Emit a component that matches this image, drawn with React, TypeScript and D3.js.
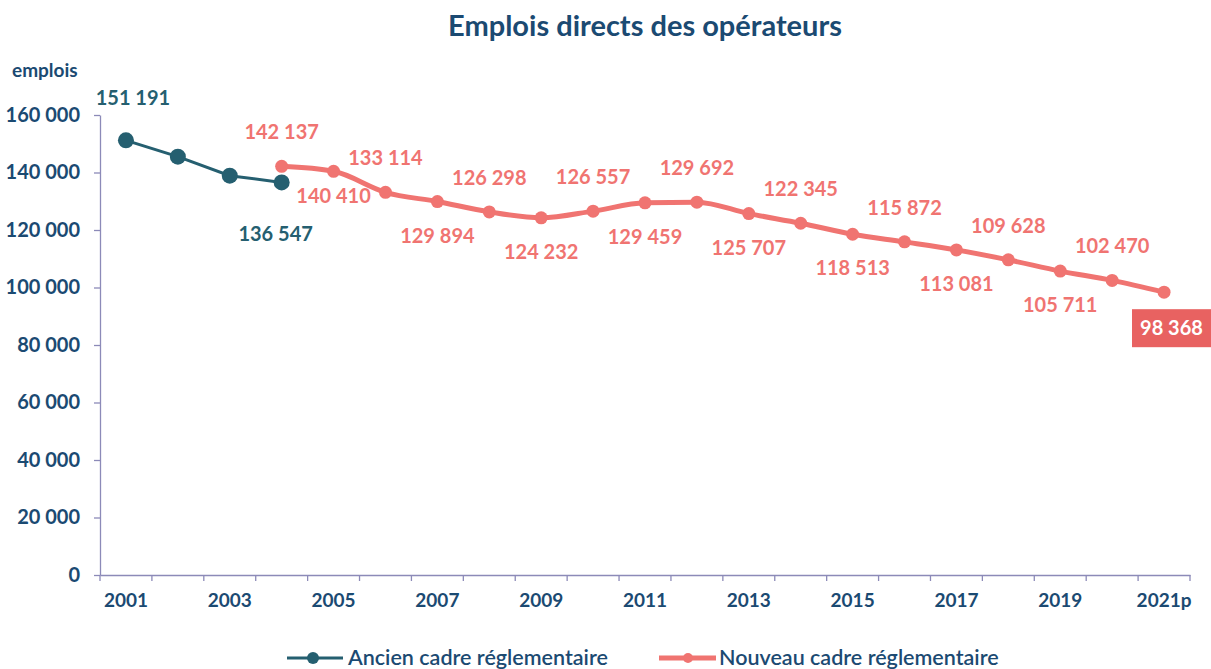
import React, { useEffect, useRef } from "react";
import * as d3 from "d3";

const years = [
  "2001", "2002", "2003", "2004", "2005", "2006", "2007", "2008", "2009", "2010", "2011",
  "2012", "2013", "2014", "2015", "2016", "2017", "2018", "2019", "2020", "2021p",
];
// ancien cadre (2001-2004)
const oldYears = ["2001", "2002", "2003", "2004"];
const oldValues = [151191, 145500, 138900, 136547];
const oldLabelled = [true, false, false, true];
// nouveau cadre (2004-2021p)
const newYears = years.slice(3);
const newValues = [
  142137, 140410, 133114, 129894, 126298, 124232, 126557, 129459, 129692,
  125707, 122345, 118513, 115872, 113081, 109628, 105711, 102470, 98368,
];
const yTicks = [0, 20000, 40000, 60000, 80000, 100000, 120000, 140000, 160000];

const NAVY = "#1b4a72";
const TEAL = "#255f70";
const RED = "#f07471";
const AXIS = "#8c8ab8";
const FONT = "Lato, 'Open Sans', sans-serif";

const fmt = (v: number) => d3.format(",")(v).replace(/,/g, " ");

export default function App() {
  const axisRef = useRef<SVGGElement>(null);

  const x = d3.scaleBand<string>().domain(years).range([100, 1190]);
  const y = d3.scaleLinear().domain([0, 160000]).range([575, 115]);
  const cx = (yr: string) => (x(yr) ?? 0) + x.bandwidth() / 2;

  useEffect(() => {
    const g = d3.select(axisRef.current);
    g.selectAll("*").remove();

    const ya = g.append("g").attr("transform", "translate(100,0)")
      .call(d3.axisLeft(y).tickValues(yTicks).tickSize(6).tickSizeOuter(0).tickPadding(14).tickFormat((d) => fmt(+d)));
    ya.select(".domain").attr("stroke", AXIS).attr("stroke-width", 1.3);
    ya.selectAll(".tick line").attr("stroke", AXIS).attr("stroke-width", 1.3);
    ya.selectAll(".tick text").attr("fill", NAVY).attr("font-size", 20).attr("font-weight", 700).attr("font-family", FONT);

    const xa = g.append("g").attr("transform", "translate(0,575)")
      .call(d3.axisBottom(x).tickSize(0).tickSizeOuter(0).tickPadding(19)
        .tickFormat((d, i) => (i % 2 === 0 ? d : "")));
    xa.select(".domain").attr("stroke", AXIS).attr("stroke-width", 1.3);
    xa.selectAll(".tick text").attr("fill", NAVY).attr("font-size", 19).attr("font-weight", 700).attr("font-family", FONT);
    // tick marks on band boundaries
    xa.selectAll("line.bound")
      .data([...years.map((d) => x(d) ?? 0), 1190])
      .enter().append("line").attr("class", "bound")
      .attr("x1", (d) => d).attr("x2", (d) => d).attr("y1", 0).attr("y2", 6)
      .attr("stroke", AXIS).attr("stroke-width", 1.3);
  }, []);

  const oldLine = d3.line<number>().x((_, i) => cx(oldYears[i])).y((d) => y(d));
  const newLine = d3.line<number>().x((_, i) => cx(newYears[i])).y((d) => y(d)).curve(d3.curveMonotoneX);

  const labelDy = (i: number) => {
    if (i === 1) return 32;
    return i % 2 === 0 ? -27 : 41;
  };

  const last = newValues.length - 1;

  return (
    <svg width={1211} height={669} style={{ position: "absolute", left: 0, top: 0, background: "#fff" }} fontFamily={FONT}>
      <text x={645} y={36} textAnchor="middle" fill={NAVY} fontSize={29} fontWeight={700}>
        Emplois directs des opérateurs
      </text>
      <text x={12} y={77} fill={NAVY} fontSize={19} fontWeight={700}>emplois</text>

      <g ref={axisRef} />

      <path d={oldLine(oldValues) ?? ""} fill="none" stroke={TEAL} strokeWidth={3} />
      {oldValues.map((v, i) => (
        <circle key={i} cx={cx(oldYears[i])} cy={y(v)} r={8} fill={TEAL} />
      ))}
      {oldValues.map((v, i) =>
        oldLabelled[i] ? (
          <text key={"ol" + i} x={cx(oldYears[i]) + (i === 0 ? 7 : -6)} y={y(v) + (i === 0 ? -35 : 59)}
            textAnchor="middle" fill={TEAL} fontSize={20} fontWeight={700}>
            {fmt(v)}
          </text>
        ) : null
      )}

      <path d={newLine(newValues) ?? ""} fill="none" stroke={RED} strokeWidth={5} strokeLinejoin="round" />
      {newValues.map((v, i) => (
        <circle key={i} cx={cx(newYears[i])} cy={y(v)} r={6.5} fill={RED} />
      ))}
      {newValues.map((v, i) =>
        i === last ? null : (
          <text key={"nl" + i} x={cx(newYears[i])} y={y(v) + labelDy(i)}
            textAnchor="middle" fill={RED} fontSize={20} fontWeight={700}>
            {fmt(v)}
          </text>
        )
      )}
      <rect x={1132} y={y(newValues[last]) + 17} width={79} height={38} fill="#e86261" />
      <text x={1171.5} y={y(newValues[last]) + 43} textAnchor="middle" fill="#fff" fontSize={20} fontWeight={700}>
        {fmt(newValues[last])}
      </text>

      {/* legend */}
      <line x1={287} x2={343} y1={658} y2={658} stroke={TEAL} strokeWidth={3} />
      <circle cx={313} cy={658} r={6} fill={TEAL} />
      <text x={348} y={665} fill={NAVY} fontSize={21.5} fontWeight={600}>Ancien cadre réglementaire</text>
      <line x1={659} x2={716} y1={658} y2={658} stroke={RED} strokeWidth={5} />
      <circle cx={688} cy={658} r={5} fill={RED} />
      <text x={719} y={665} fill={NAVY} fontSize={21.5} fontWeight={600}>Nouveau cadre réglementaire</text>
    </svg>
  );
}
